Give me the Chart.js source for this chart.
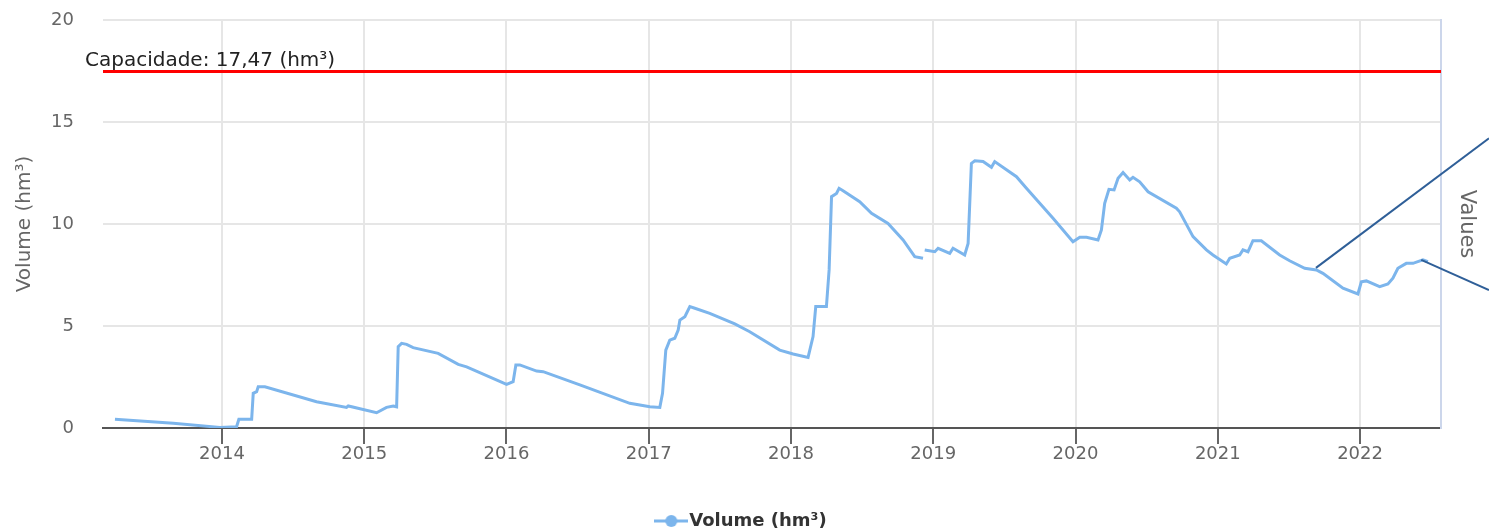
<!DOCTYPE html>
<html>
<head>
<meta charset="utf-8">
<title>Volume (hm³)</title>
<script src="https://cdn.jsdelivr.net/npm/chart.js@4.4.0/dist/chart.umd.min.js"></script>
<style>
  html, body { margin: 0; padding: 0; background: #fff; }
  #wrap { width: 1489px; height: 531px; }
</style>
</head>
<body>
<div id="wrap"><canvas id="chart"></canvas></div>
<script>
// decimal years
const dates = [
  2013.248, 2013.658, 2013.986, 2014.103, 2014.119, 2014.209, 2014.220, 2014.244, 2014.255, 2014.302,
  2014.665, 2014.876, 2014.888, 2015.087, 2015.157, 2015.204, 2015.228, 2015.239, 2015.263, 2015.298,
  2015.344, 2015.520, 2015.661, 2015.720, 2016.001, 2016.047, 2016.066, 2016.094, 2016.212, 2016.258,
  2016.516, 2016.867, 2017.008, 2017.078, 2017.097, 2017.120, 2017.148, 2017.183, 2017.207, 2017.219,
  2017.254, 2017.289, 2017.324, 2017.429, 2017.605, 2017.710, 2017.921, 2018.015, 2018.120, 2018.155,
  2018.174, 2018.249, 2018.268, 2018.285, 2018.320, 2018.338, 2018.366, 2018.483, 2018.566, 2018.682,
  2018.788, 2018.870, 2018.928, 2018.934, 2018.940, 2019.011, 2019.034, 2019.116, 2019.139, 2019.221,
  2019.245, 2019.268, 2019.292, 2019.350, 2019.409, 2019.432, 2019.585, 2019.655, 2019.842, 2019.982,
  2020.030, 2020.077, 2020.158, 2020.182, 2020.205, 2020.235, 2020.271, 2020.299, 2020.334, 2020.381,
  2020.404, 2020.451, 2020.510, 2020.709, 2020.732, 2020.826, 2020.920, 2020.966, 2021.060, 2021.084,
  2021.154, 2021.177, 2021.212, 2021.247, 2021.306, 2021.435, 2021.505, 2021.611, 2021.693, 2021.739,
  2021.880, 2021.985, 2022.009, 2022.044, 2022.138, 2022.196, 2022.231, 2022.266, 2022.325, 2022.372,
  2022.442, 2022.477
];
const volumes = [
  0.43, 0.23, 0.03, 0.06, 0.43, 0.43, 1.70, 1.78, 2.02, 2.02,
  1.29, 1.01, 1.08, 0.75, 1.01, 1.08, 1.04, 3.99, 4.15, 4.10,
  3.94, 3.66, 3.12, 3.00, 2.14, 2.27, 3.09, 3.09, 2.79, 2.76,
  2.11, 1.21, 1.04, 1.01, 1.70, 3.82, 4.31, 4.40, 4.80, 5.29,
  5.46, 5.95, 5.87, 5.62, 5.10, 4.72, 3.82, 3.63, 3.46, 4.48,
  5.95, 5.95, 7.75, 11.34, 11.50, 11.75, 11.63, 11.09, 10.52, 10.03,
  9.22, 8.40, 8.32, null, 8.73, 8.64, 8.81, 8.56, 8.81, 8.48,
  9.05, 12.97, 13.10, 13.06, 12.78, 13.06, 12.32, 11.75, 10.28, 9.13,
  9.35, 9.35, 9.22, 9.71, 11.01, 11.70, 11.67, 12.24, 12.52, 12.16,
  12.29, 12.07, 11.58, 10.77, 10.60, 9.38, 8.73, 8.48, 8.04, 8.32,
  8.48, 8.73, 8.64, 9.18, 9.18, 8.48, 8.20, 7.83, 7.75, 7.58,
  6.85, 6.57, 7.17, 7.21, 6.93, 7.06, 7.34, 7.83, 8.07, 8.07,
  8.24, 8.15
];
const yearTicks = [2014, 2015, 2016, 2017, 2018, 2019, 2020, 2021, 2022];
const capacity = 17.47;
const capacityLabel = 'Capacidade: 17,47 (hm³)';
const seriesName = 'Volume (hm³)';
// the two pointer lines drawn over the screenshot: [from x, from y, to y at right edge]
const pointers = [[2021.69, 7.85, 14.2], [2022.43, 8.24, 6.76]];

const FONT = '"DejaVu Sans", Verdana, sans-serif';
const lineColor = '#7cb5ec';

// legend marker: a short line with a dot
const marker = document.createElement('canvas');
marker.width = 34; marker.height = 14;
(() => {
  const c = marker.getContext('2d');
  c.strokeStyle = lineColor; c.lineWidth = 3;
  c.beginPath(); c.moveTo(0, 7); c.lineTo(34, 7); c.stroke();
  c.fillStyle = lineColor;
  c.beginPath(); c.arc(17, 7, 6, 0, Math.PI * 2); c.fill();
})();

const extras = {
  id: 'extras',
  afterLayout(chart) {
    const lg = chart.legend;
    lg.top += 9; lg.bottom += 9;
  },
  afterDatasetsDraw(chart) {
    const {ctx, chartArea, scales: {x, y}} = chart;
    const py = y.getPixelForValue(capacity);
    ctx.save();
    ctx.strokeStyle = '#ff0000';
    ctx.lineWidth = 3;
    ctx.beginPath();
    ctx.moveTo(chartArea.left, py);
    ctx.lineTo(chartArea.right, py);
    ctx.stroke();
    ctx.fillStyle = '#222';
    ctx.font = '20px ' + FONT;
    ctx.textBaseline = 'alphabetic';
    ctx.fillText(capacityLabel, chartArea.left - 18, py - 6);
    ctx.restore();
  },
  afterDraw(chart) {
    const {ctx, scales: {x, y}} = chart;
    ctx.save();
    ctx.strokeStyle = '#2f5f98';
    ctx.lineWidth = 2;
    pointers.forEach(p => {
      ctx.beginPath();
      ctx.moveTo(x.getPixelForValue(p[0]), y.getPixelForValue(p[1]));
      ctx.lineTo(chart.width, y.getPixelForValue(p[2]));
      ctx.stroke();
    });
    ctx.restore();
  }
};

new Chart(document.getElementById('chart'), {
  type: 'line',
  data: {
    datasets: [{
      label: seriesName,
      data: dates.map((d, i) => ({x: d, y: volumes[i]})),
      borderColor: lineColor,
      backgroundColor: lineColor,
      borderWidth: 3,
      pointRadius: 0,
      tension: 0,
      spanGaps: false,
      fill: false
    }]
  },
  options: {
    responsive: true,
    maintainAspectRatio: false,
    animation: false,
    layout: { padding: { top: 20, left: 0, right: 0, bottom: 0 } },
    plugins: {
      tooltip: { enabled: false },
      legend: {
        position: 'bottom',
        labels: {
          usePointStyle: true,
          padding: 8,
          color: '#333',
          font: { family: FONT, size: 18, weight: 'bold' },
          generateLabels: chart => [{
            text: seriesName,
            pointStyle: marker,
            fillStyle: lineColor,
            strokeStyle: lineColor,
            lineWidth: 0,
            datasetIndex: 0,
            fontColor: '#333'
          }]
        }
      }
    },
    scales: {
      x: {
        type: 'linear',
        min: 2013.164,
        max: 2022.569,
        afterBuildTicks: scale => { scale.ticks = yearTicks.map(v => ({value: v})); },
        afterFit: scale => { scale.height = 67; },
        grid: { color: '#e6e6e6', lineWidth: 2, tickColor: '#666', tickLength: 16, tickWidth: 2 },
        border: { display: true, color: '#555', width: 2 },
        ticks: {
          autoSkip: false, maxRotation: 0, padding: 0,
          color: '#666', font: { family: FONT, size: 18 },
          callback: v => String(v)
        }
      },
      y: {
        position: 'left',
        min: 0, max: 20,
        afterFit: scale => { scale.width = 103; },
        grid: { color: '#e6e6e6', lineWidth: 2, drawTicks: true, tickLength: 29, tickColor: 'rgba(0,0,0,0)' },
        border: { display: false },
        ticks: { stepSize: 5, padding: 0, color: '#666', font: { family: FONT, size: 18 } },
        title: { display: true, text: 'Volume (hm³)', color: '#666', font: { family: FONT, size: 20 }, padding: { top: 13 } }
      },
      y2: {
        position: 'right',
        min: 0, max: 20,
        afterFit: scale => { scale.width = 48; },
        grid: { drawOnChartArea: false, drawTicks: false },
        border: { display: true, color: '#ccd6eb', width: 2 },
        ticks: { display: false, padding: 0 },
        title: { display: true, text: 'Values', color: '#666', font: { family: FONT, size: 21 }, padding: { top: 10 } }
      }
    }
  },
  plugins: [extras]
});
</script>
</body>
</html>
